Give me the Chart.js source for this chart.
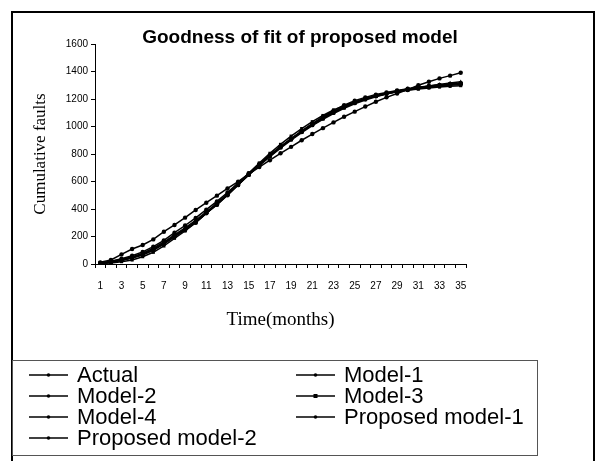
<!DOCTYPE html>
<html><head><meta charset="utf-8">
<script src="https://cdn.jsdelivr.net/npm/chart.js@4.4.0/dist/chart.umd.min.js"></script>
<style>html,body{margin:0;padding:0;background:#fff;}</style>
</head><body>
<canvas id="c" width="602" height="461"></canvas>
<script>
const CHART_TITLE = 'Goodness of fit of proposed model';
const X_TITLE = 'Time(months)';
const Y_TITLE = 'Cumulative faults';
const months = ['1','2','3','4','5','6','7','8','9','10','11','12','13','14','15','16','17','18','19','20','21','22','23','24','25','26','27','28','29','30','31','32','33','34','35'];
const yTicks = [0,200,400,600,800,1000,1200,1400,1600];
const seriesNames = ['Actual','Model-1','Model-2','Model-3','Model-4','Proposed model-1','Proposed model-2'];
const actual = [5,15,29,45,68,105,150,205,247,300,370,430,500,575,650,720,785,850,910,965,1020,1070,1115,1155,1188,1212,1232,1248,1262,1275,1282,1290,1300,1308,1315];
const model1 = [12,29,70,109,138,179,235,284,337,393,446,497,550,599,654,705,755,805,852,900,945,988,1030,1071,1108,1145,1180,1212,1240,1268,1300,1325,1350,1370,1391];
const model2 = [8,20,38,60,88,126,172,228,280,335,395,455,520,590,660,728,792,852,908,960,1010,1058,1100,1138,1170,1198,1220,1238,1254,1266,1277,1286,1294,1300,1305];
const model3 = [3,8,17,29,53,85,131,187,240,300,368,438,510,585,660,735,805,870,930,985,1035,1080,1120,1152,1180,1203,1222,1238,1252,1263,1272,1280,1287,1292,1297];
const model4 = [6,18,33,52,78,115,160,212,262,318,380,442,508,578,648,716,780,842,900,955,1006,1052,1094,1132,1165,1192,1216,1236,1254,1269,1282,1295,1306,1316,1325];
const proposed1 = [5,14,28,47,72,108,152,205,255,308,372,435,503,575,648,720,786,848,906,962,1014,1062,1105,1142,1174,1200,1222,1241,1257,1271,1283,1293,1301,1308,1313];
const proposed2 = [4,12,25,43,66,100,145,198,250,305,370,434,503,576,650,722,790,853,912,968,1020,1066,1108,1145,1176,1202,1224,1243,1259,1273,1285,1295,1303,1309,1314];
const seriesValues = [actual, model1, model2, model3, model4, proposed1, proposed2];
const seriesPointStyles = ['circle','circle','circle','rect','triangle','circle','circle'];

const datasets = seriesNames.map((name, i) => ({
  label: name,
  data: seriesValues[i],
  borderColor: '#000',
  backgroundColor: '#000',
  borderWidth: 1.5,
  pointStyle: seriesPointStyles[i],
  pointRadius: 2.2,
  pointBorderWidth: 0,
  tension: 0,
  fill: false
}));

const framePlugin = {
  id: 'frame',
  afterDraw(chart) {
    const ctx = chart.ctx;
    ctx.save();
    ctx.strokeStyle = '#000';
    ctx.lineWidth = 2;
    ctx.strokeRect(12, 12, 582, 470);
    ctx.fillStyle = '#000';
    ctx.font = 'bold 19px "Liberation Sans", Arial, sans-serif';
    ctx.textAlign = 'center';
    ctx.textBaseline = 'alphabetic';
    ctx.fillText(CHART_TITLE, 300, 42.5);
    ctx.strokeStyle = '#555';
    ctx.lineWidth = 1;
    ctx.strokeRect(12.5, 360.5, 525, 95);
    ctx.font = '22px "Liberation Sans", Arial, sans-serif';
    ctx.textAlign = 'left';
    ctx.textBaseline = 'middle';
    chart.data.datasets.forEach((ds, i) => {
      const col = i % 2, row = Math.floor(i / 2);
      const x0 = col === 0 ? 29 : 296;
      const y = 375 + row * 21;
      ctx.strokeStyle = '#000';
      ctx.lineWidth = 1.5;
      ctx.beginPath();
      ctx.moveTo(x0, y);
      ctx.lineTo(x0 + 39, y);
      ctx.stroke();
      ctx.fillStyle = '#000';
      if (ds.pointStyle === 'rect') {
        ctx.fillRect(x0 + 17.5, y - 2, 4, 4);
      } else {
        ctx.beginPath();
        ctx.arc(x0 + 19.5, y, 1.8, 0, Math.PI * 2);
        ctx.fill();
      }
      ctx.fillText(ds.label, x0 + 48, y + 1);
    });
    ctx.restore();
  }
};

new Chart(document.getElementById('c'), {
  type: 'line',
  data: { labels: months, datasets },
  options: {
    responsive: false,
    animation: false,
    devicePixelRatio: 1,
    layout: { padding: { left: 26, right: 136, top: 44, bottom: 126 } },
    plugins: { legend: { display: false }, title: { display: false }, tooltip: { enabled: false } },
    scales: {
      x: {
        type: 'category',
        offset: true,
        grid: { display: true, drawOnChartArea: false, drawTicks: true, tickLength: 4, offset: true, color: '#000', lineWidth: 1 },
        border: { display: true, color: '#000', width: 1 },
        ticks: {
          autoSkip: false, maxRotation: 0, minRotation: 0, padding: 12,
          color: '#000', font: { family: '"Liberation Sans", Arial, sans-serif', size: 10 },
          callback: function(v, i) { return i % 2 === 0 ? months[i] : ''; }
        },
        title: { display: true, text: X_TITLE, color: '#000', padding: { top: 4, bottom: 4 },
          font: { family: '"Liberation Serif", "Times New Roman", serif', size: 19 } },
        afterFit(scale) { scale.height = 71; }
      },
      y: {
        min: 0, max: 1600,
        afterBuildTicks(scale) { scale.ticks = yTicks.map(v => ({ value: v })); },
        grid: { display: true, drawOnChartArea: false, drawTicks: true, tickLength: 4, color: '#000', lineWidth: 1 },
        border: { display: true, color: '#000', width: 1 },
        ticks: { padding: 3, color: '#000', font: { family: '"Liberation Sans", Arial, sans-serif', size: 10 },
          callback: function(v) { return String(v); } },
        title: { display: true, text: Y_TITLE, color: '#000', padding: { top: 4, bottom: 4 },
          font: { family: '"Liberation Serif", "Times New Roman", serif', size: 17 } },
        afterFit(scale) { scale.width = 69; }
      }
    }
  },
  plugins: [framePlugin]
});
</script>
</body></html>
